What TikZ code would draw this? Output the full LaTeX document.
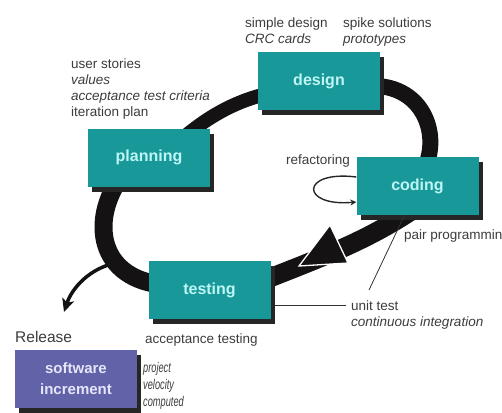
\documentclass[tikz,border=0pt]{standalone}
\usepackage{fontspec}
\usepackage{graphicx}
\setmainfont{Liberation Sans}
\newcommand\narrowtxt[1]{\scalebox{0.66}[1]{#1}}
\usetikzlibrary{shadows,arrows.meta}
\definecolor{boxteal}{RGB}{24,152,152}
\definecolor{boxtext}{RGB}{190,245,245}
\definecolor{swbox}{RGB}{97,98,168}
\definecolor{swtext}{RGB}{230,230,250}
\definecolor{txtgrey}{RGB}{60,60,60}
\definecolor{loopblack}{RGB}{20,18,18}
\tikzset{
  phase/.style={rectangle, fill=boxteal, minimum width=122pt, minimum height=58pt,
    inner sep=0pt, text=boxtext, font=\bfseries\fontsize{16}{19}\selectfont,
    drop shadow={shadow xshift=4pt, shadow yshift=-5pt, opacity=1, fill=black!85}},
  swphase/.style={phase, fill=swbox, text=swtext, align=center,
    font=\bfseries\fontsize{15}{21}\selectfont},
  note/.style={inner sep=0pt, anchor=north west, align=left, text=txtgrey,
    font=\fontsize{13.5}{16}\selectfont},
  band/.style={draw=loopblack, line cap=butt},
  thinarrow/.style={draw=black!85, line width=1.4pt, -{Stealth[length=6pt,width=6pt]}},
  thinline/.style={draw=black!80, line width=0.8pt}
}
\begin{document}
\begin{tikzpicture}[x=1pt,y=-1pt]
\useasboundingbox (0,0) rectangle (502,412);
% coordinates
\coordinate (relTip) at (64,312);
\coordinate (utEnd) at (369,290);
\coordinate (utLine) at (346,305);
% loop bands
\draw[band, line width=14pt] (175,145) .. controls (205,118) and (235,100) .. (275,92);
\draw[band, line width=16pt] (370,86) .. controls (420,84) and (440,130) .. (426,165);
\draw[band, line width=19pt] (420,205) .. controls (370,240) and (320,258) .. (262,281);
\draw[band, line width=18pt] (165,285) .. controls (100,280) and (88,222) .. (122,175)
  coordinate[pos=0.35] (br);
% branch to release
\draw[draw=loopblack, line width=3.5pt, -{Stealth[length=13pt,width=12pt,inset=3pt]}]
  (br) .. controls (90,268) and (72,288) .. (relTip);
% big arrowhead
\fill[loopblack, draw=white, line width=1.3pt, line join=miter] (299,266) -- (330,225) -- (348,263) -- cycle;
% thin connectors
\draw[thinline] (utLine) -- (272,305);
% boxes
\node[phase] (design) at (319,81) {design};
\node[phase] (planning) at (149,157.5) {planning};
\node[phase] (coding) at (417.5,186) {coding};
\node[phase] (testing) at (209.5,290) {testing};
\node[swphase] (sw) at (76,379) {software\\increment};
% refactoring loop
\draw[thinarrow] ([yshift=9pt]coding.west) .. controls (300,170) and (300,207) .. ([yshift=-16pt]coding.west);
\draw[thinline] ([xshift=-13pt]coding.south) -- (utEnd);
% notes
\node[note] (plannotes) at (71,58.5) {user stories\\\textit{values}\\\textit{acceptance test criteria}\\iteration plan};
\node[note] (designnotesA) at (245,17.5) {simple design\\\textit{CRC cards}};
\node[note] (designnotesB) at (343,17.5) {spike solutions\\\textit{prototypes}};
\node[note] (refact) at (286,154.5) {refactoring};
\node[note] (pair) at (404,229.5) {pair programmin};
\node[note] (ut) at (351,300.5) {unit test\\\textit{continuous integration}};
\node[note] (acct) at (145,333.5) {acceptance testing};
\node[note, font=\fontsize{15.5}{18}\selectfont] (release) at (15,331.5) {Release};
\node[note, font=\itshape\fontsize{14}{17}\selectfont] (velo) at (143,362) {\narrowtxt{project}\\\narrowtxt{velocity}\\\narrowtxt{computed}};
\end{tikzpicture}
\end{document}
